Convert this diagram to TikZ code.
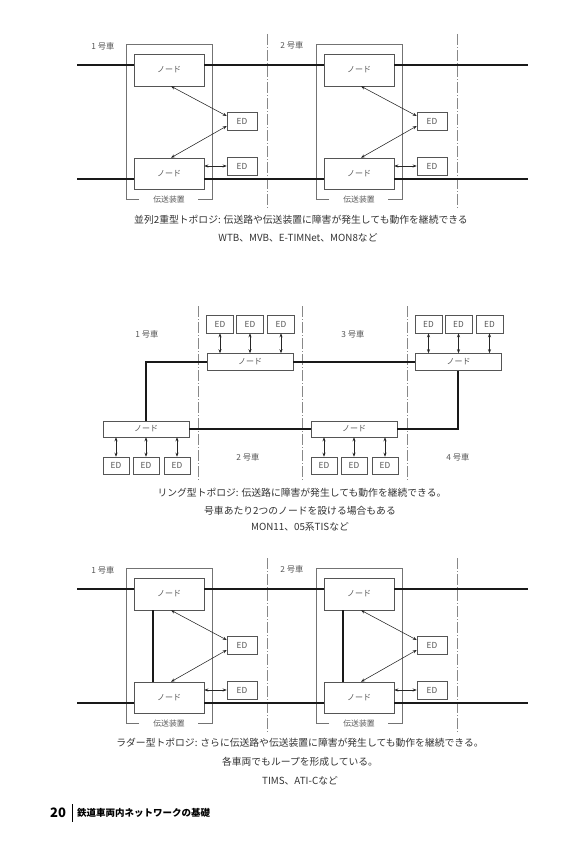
\documentclass[tikz,border=0pt]{standalone}
\usepackage{fontspec}
\setmainfont{Noto Sans CJK JP}
\usetikzlibrary{arrows.meta}
\definecolor{txt}{HTML}{333333}
\definecolor{lbl}{HTML}{555555}
\definecolor{bx}{HTML}{555555}
\definecolor{carln}{HTML}{888888}
\tikzset{
  nodebox/.style={draw=bx, fill=white, line width=0.5pt, inner sep=0pt,
    minimum width=70pt, minimum height=32pt, text=lbl, font=\fontsize{8}{9}\selectfont},
  edbox/.style={draw=bx, fill=white, line width=0.5pt, inner sep=0pt,
    minimum width=30pt, minimum height=18pt, text=lbl, font=\fontsize{8.3}{9}\selectfont},
  rnode/.style={nodebox, minimum width=86pt, minimum height=17pt},
  redbox/.style={edbox, minimum width=27pt, minimum height=18pt},
  tline/.style={line width=1.3pt, black!90},
  carline/.style={draw=carln, line width=0.4pt, dash pattern=on 11pt off 2pt on 1pt off 2pt},
  tbox/.style={draw=black!55, line width=0.6pt},
  darr/.style={<->, >={Stealth[length=4pt,width=3pt]}, line width=0.55pt, black!85},
  carlbl/.style={text=lbl, font=\fontsize{8.3}{9}\selectfont},
  tboxlbl/.style={text=lbl, font=\fontsize{7.8}{8}\selectfont},
  captxt/.style={text=txt, font=\fontsize{9.8}{11}\selectfont},
}
\begin{document}
\begin{tikzpicture}[x=1pt, y=-1pt]
\useasboundingbox (0,0) rectangle (575,851);
\fill[white] (0,0) rectangle (575,851);

% ===== parallel (p) and ladder (l) diagrams =====
\foreach \D/\dy in {p/0,l/524}{
  % car boundaries
  \draw[carline] (267,34+\dy) -- (267,208+\dy);
  \draw[carline] (457,34+\dy) -- (457,208+\dy);
  \node[carlbl] (\D car1) at (103,46+\dy) {1 号車};
  \node[carlbl] (\D car2) at (292,45+\dy) {2 号車};
  \coordinate (\D LT) at (77,65+\dy);
  \coordinate (\D RT) at (528,65+\dy);
  \coordinate (\D LB) at (77,179+\dy);
  \coordinate (\D RB) at (528,179+\dy);
  \foreach \k/\dx in {0/0,1/190}{
    \draw[tbox] (139+\dx,199+\dy) -- (126+\dx,199+\dy) -- (126+\dx,44+\dy)
      -- (212+\dx,44+\dy) -- (212+\dx,199+\dy) -- (198+\dx,199+\dy);
    \node[tboxlbl] (\D\k tl) at (169+\dx,200+\dy) {伝送装置};
    \node[nodebox] (\D\k nA) at (169+\dx,70+\dy) {ノード};
    \node[nodebox, minimum height=31pt] (\D\k nB) at (169+\dx,173.5+\dy) {ノード};
    \node[edbox] (\D\k e1) at (242+\dx,121+\dy) {ED};
    \node[edbox] (\D\k e2) at (242+\dx,166+\dy) {ED};
    \draw[darr] ([xshift=2pt]\D\k nA.south) -- ([yshift=5pt]\D\k e1.west);
    \draw[darr] ([yshift=-5pt]\D\k e1.west) -- ([xshift=2pt]\D\k nB.north);
    \draw[darr] (\D\k e2.west) -- (\D\k nB.east |- \D\k e2.west);
  }
  \draw[tline] (\D LT) -- (\D0nA.west |- \D LT);
  \draw[tline] (\D0nA.east |- \D LT) -- (\D1nA.west |- \D LT);
  \draw[tline] (\D1nA.east |- \D LT) -- (\D RT);
  \draw[tline] (\D LB) -- (\D0nB.west |- \D LB);
  \draw[tline] (\D0nB.east |- \D LB) -- (\D1nB.west |- \D LB);
  \draw[tline] (\D1nB.east |- \D LB) -- (\D RB);
}
% ladder rungs
\foreach \k in {0,1}{
  \draw[tline] ([xshift=-16pt]l\k nA.south) -- ([xshift=-16pt]l\k nB.north);
}

% ===== ring diagram =====
\draw[carline] (198,306) -- (198,481);
\draw[carline] (302,306) -- (302,481);
\draw[carline] (407,306) -- (407,481);
\node[carlbl] (rc1) at (147,334) {1 号車};
\node[carlbl] (rc3) at (353,334) {3 号車};
\node[carlbl] (rc2) at (248,457) {2 号車};
\node[carlbl] (rc4) at (458,457) {4 号車};

\node[rnode] (rT1) at (250,362) {ノード};
\node[rnode] (rT2) at (458.5,362) {ノード};
\node[rnode, minimum height=16pt] (rB1) at (146,429) {ノード};
\node[rnode, minimum height=16pt] (rB2) at (354,429) {ノード};

\foreach \n in {T1,T2}{
  \foreach \i/\o in {a/-30,b/0,c/31}{
    \node[redbox] (r\n\i) at ([xshift=\o pt,yshift=38pt]r\n.center) {ED};
    \draw[darr] (r\n\i.south) -- (r\n\i.south |- r\n.north);
  }
}
\foreach \n in {B1,B2}{
  \foreach \i/\o in {a/-30,b/0,c/31}{
    \node[redbox, minimum width=26pt, minimum height=17pt] (r\n\i) at ([xshift=\o pt,yshift=-36.5pt]r\n.center) {ED};
    \draw[darr] (r\n.south -| r\n\i.north) -- (r\n\i.north);
  }
}
\draw[tline] (rT1.west) -| (rB1.north);
\draw[tline] (rT1.east) -- (rT2.west);
\draw[tline] (rB1.east) -- (rB2.west);
\draw[tline] ([xshift=-0.5pt]rT2.south) |- (rB2.east);

% ===== captions =====
\node[captxt] (c1) at (301,220) {並列2重型トポロジ: 伝送路や伝送装置に障害が発生しても動作を継続できる};
\node[captxt] (c2) at (298,238) {WTB、MVB、E-TIMNet、MON8など};
\node[captxt] (c3) at (302,493) {リング型トポロジ: 伝送路に障害が発生しても動作を継続できる。};
\node[captxt] (c4) at (300,511) {号車あたり2つのノードを設ける場合もある};
\node[captxt] (c5) at (300,527) {MON11、05系TISなど};
\node[captxt] (c6) at (300,743) {ラダー型トポロジ: さらに伝送路や伝送装置に障害が発生しても動作を継続できる。};
\node[captxt] (c7) at (300,762) {各車両でもループを形成している。};
\node[captxt] (c8) at (300,781) {TIMS、ATI-Cなど};

% ===== footer =====
\node[anchor=west, inner sep=0pt, font=\fontsize{13}{14}\selectfont\bfseries, text=black] (pg) at (50,813) {20};
\draw[line width=1pt, black] (72,804) -- (72,822);
\node[anchor=west, inner sep=0pt, font=\fontsize{9.5}{10}\selectfont\bfseries, text=black] (ft) at (77,813) {鉄道車両内ネットワークの基礎};
\end{tikzpicture}
\end{document}
